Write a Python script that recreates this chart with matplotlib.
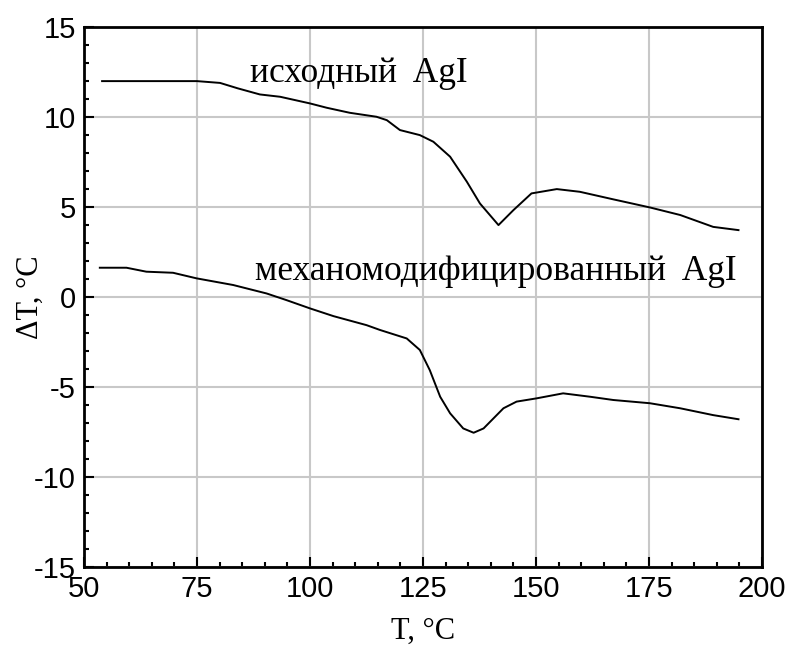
import numpy as np
import matplotlib
matplotlib.use("Agg")
from matplotlib import pyplot as plt
from matplotlib.ticker import MultipleLocator

plt.rcParams['axes.unicode_minus'] = False

# исходный AgI
t_ref = [54, 60, 70, 75, 80.1, 84, 88.9, 93.4, 100, 103.7, 108.8, 114.7, 117,
         119.9, 124.3, 127.3, 131, 134.7, 137.6, 141.7, 145, 149, 154.6,
         159.7, 167.1, 175.2, 181.9, 189.2, 194.8]
dt_ref = [12.0, 12.0, 12.0, 12.0, 11.9, 11.6, 11.26, 11.13, 10.76, 10.52, 10.24,
          10.02, 9.83, 9.28, 9.0, 8.63, 7.8, 6.41, 5.2, 4.0, 4.83, 5.76, 6.0,
          5.85, 5.43, 4.98, 4.56, 3.9, 3.72]

# механомодифицированный AgI
t_mod = [53.5, 59.4, 63.8, 69.7, 74.9, 83, 90.4, 94.8, 100, 105.2, 112.5,
         115.5, 121.4, 124.3, 126.5, 128.8, 131, 133.9, 136.2, 138.4, 142.8,
         145.7, 150.1, 156, 162, 167.1, 175.2, 181.9, 189.2, 194.8]
dt_mod = [1.63, 1.63, 1.41, 1.35, 1.04, 0.67, 0.2, -0.17, -0.63, -1.06, -1.56,
          -1.83, -2.3, -2.94, -4.06, -5.54, -6.46, -7.3, -7.54, -7.3, -6.18,
          -5.81, -5.63, -5.35, -5.54, -5.72, -5.9, -6.18, -6.56, -6.79]

fig = plt.figure(figsize=(7.88, 6.46), dpi=100)
ax = fig.add_axes([0.1066, 0.1223, 0.8604, 0.8357])

ax.plot(t_ref, dt_ref, color="black", lw=1.4)
ax.plot(t_mod, dt_mod, color="black", lw=1.4)

ax.set_xlim(50, 200)
ax.set_ylim(-15, 15)
ax.xaxis.set_major_locator(MultipleLocator(25))
ax.xaxis.set_minor_locator(MultipleLocator(5))
ax.yaxis.set_major_locator(MultipleLocator(5))
ax.yaxis.set_minor_locator(MultipleLocator(1))
ax.grid(True, which="major", color="#c8c8c8", lw=1.5)
ax.set_axisbelow(True)

ax.tick_params(which="both", direction="in", top=False, right=False,
               labelsize=21, width=1.5)
ax.tick_params(axis="x", pad=6)
ax.tick_params(axis="y", pad=6)
ax.tick_params(which="major", length=7)
ax.tick_params(which="minor", length=3.5)
for lab in ax.get_xticklabels() + ax.get_yticklabels():
    lab.set_family("Liberation Sans")
for sp in ax.spines.values():
    sp.set_linewidth(2)

ax.set_xlabel("T, °C", family="Liberation Serif", fontsize=22, labelpad=10)
ax.set_ylabel("ΔT, °C", family="Liberation Serif", fontsize=22)
ax.yaxis.set_label_coords(-0.058, 0.5)

ax.text(86.7, 11.96, "исходный  AgI", family="Liberation Serif", fontsize=25.5,
        va="baseline", ha="left")
ax.text(87.8, 0.94, "механомодифицированный  AgI", family="Liberation Serif",
        fontsize=25.5, va="baseline", ha="left")

fig.savefig("out.png", dpi=100)
